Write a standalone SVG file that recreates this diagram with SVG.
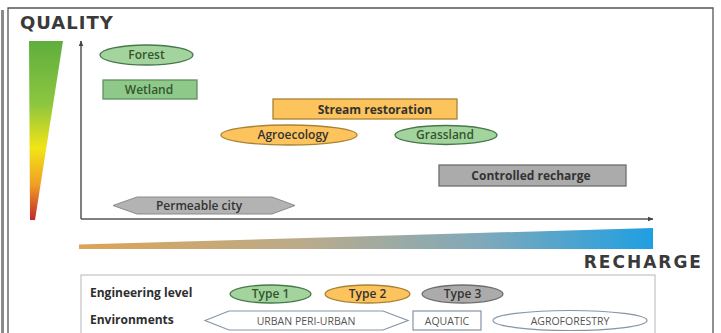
<svg xmlns="http://www.w3.org/2000/svg" width="721" height="333" viewBox="0 0 721 333">
  <defs>
    <linearGradient id="gQual" x1="0" y1="0" x2="0" y2="1">
      <stop offset="0" stop-color="#5fae3e"/>
      <stop offset="0.35" stop-color="#8cc63f"/>
      <stop offset="0.6" stop-color="#f2e415"/>
      <stop offset="0.8" stop-color="#f0a024"/>
      <stop offset="1" stop-color="#c2272d"/>
    </linearGradient>
    <linearGradient id="gRech" x1="0" y1="0" x2="1" y2="0">
      <stop offset="0" stop-color="#dca456"/>
      <stop offset="0.4" stop-color="#b9ab8c"/>
      <stop offset="0.7" stop-color="#80a9ba"/>
      <stop offset="1" stop-color="#1f9fe2"/>
    </linearGradient>
    <marker id="arr" viewBox="0 0 10 10" refX="9" refY="5" markerWidth="6" markerHeight="6" orient="auto" markerUnits="userSpaceOnUse">
      <path d="M0,1 L10,5 L0,9 Z" fill="#444"/>
    </marker>
  </defs>
  <style>
    .lbl { font-family: "Open Sans", "DejaVu Sans", sans-serif; font-size: 12px; font-weight: 600; text-anchor: middle; fill: #333; }
    .b { font-weight: bold; }
    .gtxt { fill: #34552f; }
    .green { fill: #a3d49d; stroke: #46784a; stroke-width: 1.3; }
    .greenr { fill: #8fc98a; stroke: #5f9060; stroke-width: 1.3; }
    .orange { fill: #fdc35c; stroke: #a98233; stroke-width: 1.3; }
    .gray { fill: #ababab; stroke: #6e6e6e; stroke-width: 1.3; }
    .axis { stroke: #555; stroke-width: 1.5; fill: none; }
    .big { font-family: "DejaVu Sans", "Liberation Sans", sans-serif; font-weight: bold; fill: #3a3a3a; }
    .leg { font-family: "Open Sans", "DejaVu Sans", sans-serif; font-size: 12px; font-weight: bold; fill: #2e2e2e; }
    .env { font-family: "Open Sans", "DejaVu Sans", sans-serif; font-size: 10.5px; text-anchor: middle; fill: #555; }
    .envs { fill: #fff; stroke: #8595a6; stroke-width: 1.2; }
  </style>

  <rect width="721" height="333" fill="#fff"/>
  <!-- frame -->
  <line x1="2.5" y1="10" x2="2.5" y2="333" stroke="#8a8a8a" stroke-width="3"/>
  <path d="M8,340 V8 H713 V340" fill="none" stroke="#555" stroke-width="1.3"/>

  <text class="big" x="20" y="29" font-size="18" letter-spacing="1">QUALITY</text>
  <polygon points="29,41 63,41 35,220 30,220" fill="url(#gQual)"/>

  <text class="big" x="703" y="268" font-size="17" letter-spacing="2" text-anchor="end" fill="#4a4a4a">RECHARGE</text>
  <polygon points="79,244.5 653,228 653,249 79,249" fill="url(#gRech)"/>

  <g id="connectors">
    <line class="axis" x1="81" y1="219" x2="81" y2="41" marker-end="url(#arr)"/>
    <line class="axis" x1="81" y1="219" x2="653" y2="219" marker-end="url(#arr)"/>
  </g>

  <g id="forest">
    <ellipse class="green" cx="146.5" cy="55" rx="46.5" ry="10"/>
    <text class="lbl gtxt" x="146.5" y="59">Forest</text>
  </g>
  <g id="wetland">
    <rect class="greenr" x="103" y="80" width="94" height="19"/>
    <text class="lbl gtxt" x="149" y="94">Wetland</text>
  </g>
  <g id="stream-restoration">
    <rect class="orange" x="273" y="99" width="184" height="20"/>
    <text class="lbl b" x="375" y="113.5" font-size="13">Stream restoration</text>
  </g>
  <g id="agroecology">
    <ellipse class="orange" cx="289" cy="135" rx="68" ry="10"/>
    <text class="lbl" x="293" y="139" fill="#3d3520">Agroecology</text>
  </g>
  <g id="grassland">
    <ellipse class="green" cx="446" cy="135" rx="51" ry="9.5"/>
    <text class="lbl gtxt" x="445" y="139">Grassland</text>
  </g>
  <g id="controlled-recharge">
    <rect class="gray" x="439" y="165" width="187" height="21"/>
    <text class="lbl b" x="531" y="180" font-size="12.5">Controlled recharge</text>
  </g>
  <g id="permeable-city">
    <polygon points="113,205.5 137,197 272,197 295,205.5 272,214 137,214" fill="#b3b3b3" stroke="#8a8a8a" stroke-width="1"/>
    <text class="lbl" x="199" y="209.5" fill="#3a3a3a">Permeable city</text>
  </g>

  <g id="legend">
    <rect x="81" y="275" width="574" height="70" fill="#fff" stroke="#b5b5b5" stroke-width="1"/>
    <text class="leg" x="90" y="297">Engineering level</text>
    <text class="leg" x="90" y="324">Environments</text>
  </g>
  <g id="type1">
    <ellipse class="green" cx="270.5" cy="294" rx="40.5" ry="9"/>
    <text class="lbl gtxt" x="270.5" y="298">Type 1</text>
  </g>
  <g id="type2">
    <ellipse class="orange" cx="367.5" cy="294" rx="42.5" ry="9"/>
    <text class="lbl" x="367.5" y="298" fill="#3d3520">Type 2</text>
  </g>
  <g id="type3">
    <ellipse class="gray" cx="462.5" cy="294" rx="40.5" ry="9"/>
    <text class="lbl" x="462.5" y="298">Type 3</text>
  </g>
  <g id="urban">
    <polygon class="envs" points="205,320.5 229,311 383,311 408,320.5 383,330 229,330"/>
    <text class="env" x="306" y="324.5">URBAN PERI-URBAN</text>
  </g>
  <g id="aquatic">
    <rect class="envs" x="413" y="311" width="68" height="19"/>
    <text class="env" x="447" y="324.5">AQUATIC</text>
  </g>
  <g id="agroforestry">
    <ellipse class="envs" cx="570" cy="320.5" rx="77" ry="10"/>
    <text class="env" x="570" y="324.5">AGROFORESTRY</text>
  </g>
</svg>
